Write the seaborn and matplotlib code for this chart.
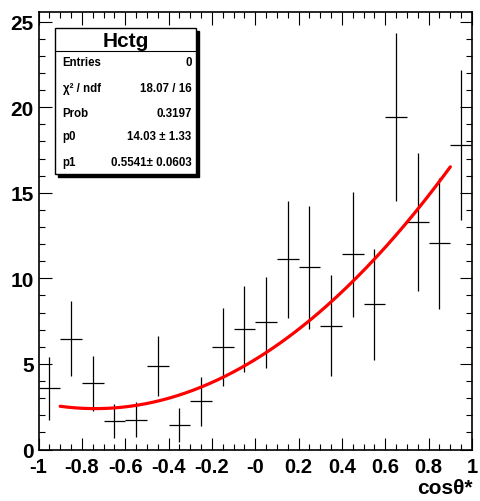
import numpy as np
import pandas as pd
import matplotlib
matplotlib.use("Agg")
import matplotlib.pyplot as plt
import seaborn as sns
from matplotlib.patches import Rectangle
from matplotlib.ticker import MultipleLocator, FixedLocator

# ---- data ----
bin_centers = [-0.95, -0.85, -0.75, -0.65, -0.55, -0.45, -0.35, -0.25, -0.15, -0.05,
               0.05, 0.15, 0.25, 0.35, 0.45, 0.55, 0.65, 0.75, 0.85, 0.95]
counts = [3.58, 6.48, 3.87, 1.67, 1.74, 4.88, 1.43, 2.82, 5.99, 7.05,
          7.44, 11.12, 10.65, 7.22, 11.41, 8.49, 19.44, 13.30, 12.04, 17.81]
errors = [1.85, 2.21, 1.60, 0.99, 1.02, 1.76, 1.00, 1.43, 2.29, 2.53,
          2.65, 3.43, 3.60, 2.95, 3.66, 3.24, 4.90, 4.03, 3.82, 4.37]
bin_half_width = 0.05
p0, p1 = 14.03, 0.5541
fit_range = (-0.9, 0.9)
x_tick_values = [-1, -0.8, -0.6, -0.4, -0.2, 0, 0.2, 0.4, 0.6, 0.8, 1]
x_tick_labels = ["-1", "-0.8", "-0.6", "-0.4", "-0.2", "-0", "0.2", "0.4", "0.6", "0.8", "1"]
stats_title = "Hctg"
stats_rows = [("Entries", "0"), ("χ² / ndf", "18.07 / 16"), ("Prob", "0.3197"),
              ("p0", "14.03 ± 1.33"), ("p1", "0.5541± 0.0603")]

sns.set_style("ticks")
plt.rcParams['font.family'] = ['Liberation Sans', 'DejaVu Sans']
plt.rcParams['font.weight'] = 'bold'
plt.rcParams['text.color'] = 'black'
plt.rcParams['xtick.color'] = 'black'
plt.rcParams['ytick.color'] = 'black'
plt.rcParams['axes.labelcolor'] = 'black'

W, H = 480, 502
fig = plt.figure(figsize=(W / 100, H / 100), dpi=100)

def px(x, y):
    return x / W, 1 - y / H

ax_l, ax_r, ax_t, ax_b = 38.5, 472.0, 13.3, 450.5
ax = fig.add_axes([ax_l / W, 1 - ax_b / H, (ax_r - ax_l) / W, (ax_b - ax_t) / H])

ax.errorbar(bin_centers, counts, yerr=errors, xerr=bin_half_width, fmt='none',
            ecolor='black', elinewidth=0.9, capsize=0)

xs = np.linspace(fit_range[0], fit_range[1], 200)
fit_df = pd.DataFrame({"x": xs, "y": p0 * (0.375 * (1 + xs ** 2) + p1 * xs)})
sns.lineplot(data=fit_df, x="x", y="y", ax=ax, color='#ff0000', linewidth=2.3)

ax.set_xlim(-1, 1)
ax.set_ylim(0, 25.55)
ax.set_xlabel("")
ax.set_ylabel("")
ax.xaxis.set_major_locator(FixedLocator(x_tick_values))
ax.set_xticklabels(x_tick_labels)
ax.xaxis.set_minor_locator(MultipleLocator(0.05))
ax.yaxis.set_major_locator(MultipleLocator(5))
ax.yaxis.set_minor_locator(MultipleLocator(1))
ax.tick_params(which='both', direction='in', top=True, right=True, width=0.8, color='black')
ax.tick_params(which='major', length=9)
ax.tick_params(which='minor', length=4.5)
ax.tick_params(axis='x', which='major', labelsize=14.5, pad=5.5, labelcolor='black')
ax.tick_params(axis='y', which='major', labelsize=15, pad=3.5, labelcolor='black')
for lab in ax.get_xticklabels() + ax.get_yticklabels():
    lab.set_fontweight('bold')
for s in ax.spines.values():
    s.set_visible(True)
    s.set_linewidth(1.2)
    s.set_color('black')

fig.text(*px(473, 489), "cosθ*", ha='right', va='center', fontsize=15, fontweight='bold')

# stats box
bx0, by0, bx1, by1 = 55.0, 29.3, 195.7, 175.0
sh = 3
fig.patches.append(Rectangle(px(bx0 + sh, by1 + sh), (bx1 - bx0) / W, (by1 - by0) / H,
                             transform=fig.transFigure, facecolor='black', edgecolor='black', zorder=5))
fig.patches.append(Rectangle(px(bx0, by1), (bx1 - bx0) / W, (by1 - by0) / H,
                             transform=fig.transFigure, facecolor='white', edgecolor='black',
                             linewidth=1.0, zorder=6))
sep_y = 52.3
fig.add_artist(plt.Line2D([bx0 / W, bx1 / W], [1 - sep_y / H, 1 - sep_y / H],
                          transform=fig.transFigure, color='black', linewidth=0.8, zorder=7))
fig.text(*px((bx0 + bx1) / 2, 41.5), stats_title, ha='center', va='center',
         fontsize=15, fontweight='bold', zorder=8)
row_y = [63.3, 89.3, 114.3, 136.7, 162.7]
for (lab, val), yy in zip(stats_rows, row_y):
    fig.text(*px(62.5, yy), lab, ha='left', va='center', fontsize=8.3, fontweight='bold', zorder=8)
    fig.text(*px(191.7, yy), val, ha='right', va='center', fontsize=8.3, fontweight='bold', zorder=8)

fig.savefig("out.png", dpi=100)
